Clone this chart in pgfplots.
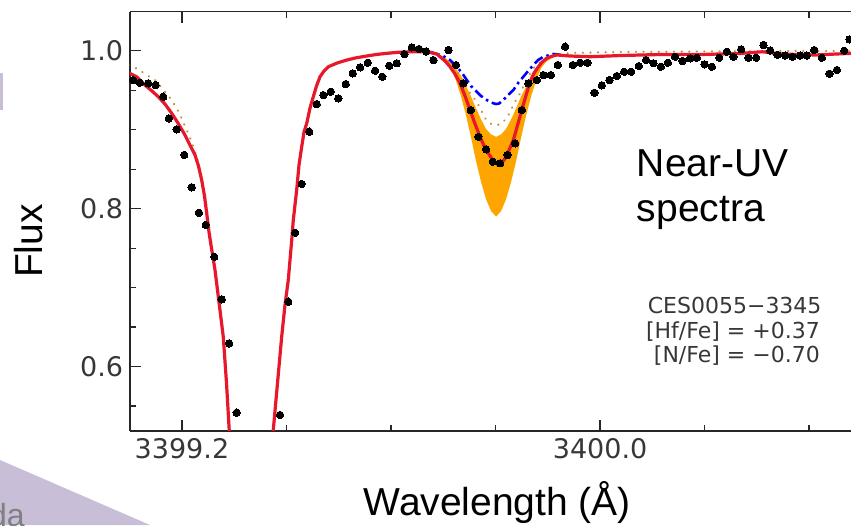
\documentclass[border=0pt]{standalone}
\usepackage{fontspec}
\setmainfont{Liberation Sans}
\newfontfamily\dejavu{DejaVu Sans}
\usepackage{pgfplots}
\pgfplotsset{compat=1.18}
\definecolor{fitred}{RGB}{232,24,44}
\definecolor{bandorange}{RGB}{255,165,0}
\definecolor{dotol}{RGB}{192,145,60}
\definecolor{lav}{RGB}{201,190,216}
\definecolor{tickgray}{RGB}{55,55,55}

\pgfplotstableread{
x y
3399.1068 0.9629
3399.1196 0.9595
3399.1355 0.9587
3399.1497 0.9566
3399.1642 0.9418
3399.1751 0.9144
3399.1899 0.9005
3399.2044 0.8681
3399.2186 0.8271
3399.2325 0.7949
3399.2454 0.7794
3399.2618 0.7392
3399.2760 0.6853
3399.2900 0.6296
3399.3047 0.5418
3399.3876 0.5389
3399.4034 0.6823
3399.4163 0.7696
3399.4291 0.8313
3399.4436 0.8975
3399.4578 0.9325
3399.4704 0.9439
3399.4846 0.9481
3399.4991 0.9397
3399.5133 0.9578
3399.5267 0.9714
3399.5407 0.9790
3399.5554 0.9848
3399.5694 0.9747
3399.5833 0.9671
3399.5967 0.9810
3399.6109 0.9841
3399.6255 0.9958
3399.6396 1.0043
3399.6536 1.0022
3399.6670 0.9992
3399.6810 0.9882
3399.7097 1.0009
3399.7244 0.9819
3399.7384 0.9587
3399.7525 0.9249
3399.7671 0.8911
3399.7818 0.8752
3399.7946 0.8595
3399.8086 0.8575
3399.8226 0.8680
3399.8373 0.8828
3399.8502 0.9249
3399.8628 0.9587
3399.8789 0.9629
3399.8915 0.9692
3399.9057 0.9692
3399.9190 0.9819
3399.9330 1.0051
3399.9478 0.9819
3399.9617 0.9848
3399.9757 0.9848
3399.9891 0.9468
3400.0033 0.9562
3400.0178 0.9629
3400.0320 0.9680
3400.0459 0.9734
3400.0593 0.9734
3400.0741 0.9806
3400.0880 0.9882
3400.1020 0.9841
3400.1162 0.9797
3400.1296 0.9848
3400.1435 0.9924
3400.1575 0.9870
3400.1722 0.9904
3400.1851 0.9911
3400.1996 0.9828
3400.2138 0.9797
3400.2278 0.9911
3400.2425 0.9987
3400.2551 0.9924
3400.2699 1.0018
3400.2838 0.9911
3400.2986 0.9911
3400.3126 1.0072
3400.3254 1.0004
3400.3393 0.9949
3400.3541 0.9939
3400.3680 0.9924
3400.3828 0.9939
3400.3956 0.9939
3400.4096 1.0009
3400.4243 0.9911
3400.4389 0.9709
3400.4530 0.9756
3400.4670 1.0000
3400.4771 1.0142
3400.4830 0.8009
3400.4835 0.5996
}\obsdata

\begin{document}
\begin{tikzpicture}[x=1pt,y=1pt]
\path[use as bounding box] (0,0) rectangle (851,525);
\fill[lav] (0,65) -- (150,0) -- (0,0) -- cycle;
\fill[lav] (0,415) rectangle (2.5,452);
\node[anchor=base east, text=gray, font=\fontsize{32}{38}\selectfont, inner sep=0pt] at (25,-1) {da};
\begin{axis}[
  at={(129.7pt,94pt)}, anchor=south west, scale only axis,
  width=721.3pt, height=419.3pt,
  xmin=3399.1, xmax=3400.48, ymin=0.5186, ymax=1.0494,
  axis x line*=box, axis y line*=left,
  xtick pos=both, ytick pos=left,
  xtick={3399.2,3400.0}, xticklabels={3399.2,3400.0},
  minor xtick={3399.4,3399.6,3399.8,3400.2,3400.4},
  ytick={0.6,0.8,1.0}, yticklabels={0.6,0.8,1.0},
  minor ytick={0.55,0.65,0.7,0.75,0.85,0.9,0.95},
  tick align=inside, major tick length=11pt, minor tick length=6pt,
  tick style={line width=1.4pt, color=black!85},
  axis line style={line width=1.6pt, color=black!85},
  tick label style={font=\fontsize{27}{32}\selectfont\dejavu, text=tickgray},
  xticklabel style={yshift=-4pt},
  yticklabel style={xshift=-3pt},
  clip marker paths=true,
]
% orange band
\addplot[draw=none, fill=bandorange, mark=none] coordinates {
(3399.6861,0.997) (3399.7053,0.990) (3399.7148,0.985) (3399.7244,0.977)
(3399.7340,0.968) (3399.7435,0.955) (3399.7531,0.942) (3399.7627,0.927)
(3399.7722,0.913) (3399.7818,0.901) (3399.7914,0.894) (3399.8010,0.891)
(3399.8105,0.894) (3399.8201,0.901) (3399.8297,0.913) (3399.8392,0.927)
(3399.8488,0.942) (3399.8584,0.955) (3399.8679,0.968) (3399.8775,0.977)
(3399.8871,0.985) (3399.8967,0.990) (3399.9158,0.995)
(3399.9158,0.994) (3399.8967,0.986) (3399.8871,0.978) (3399.8775,0.962)
(3399.8679,0.942) (3399.8584,0.918) (3399.8488,0.890) (3399.8392,0.860)
(3399.8297,0.834) (3399.8201,0.812) (3399.8105,0.797) (3399.8010,0.790)
(3399.7914,0.797) (3399.7818,0.812) (3399.7722,0.834) (3399.7627,0.860)
(3399.7531,0.890) (3399.7435,0.918) (3399.7340,0.942) (3399.7244,0.962)
(3399.7148,0.978) (3399.7053,0.986) (3399.6861,0.996)
};
% blue dash-dot
\addplot[blue, mark=none, line width=2.6pt, dash pattern=on 10pt off 4pt on 2.5pt off 4pt] coordinates {
(3399.6746,0.9987) (3399.6995,0.9933) (3399.7129,0.9882) (3399.7258,0.9797)
(3399.7359,0.9718) (3399.7449,0.9629) (3399.7531,0.9553) (3399.7640,0.9481)
(3399.7722,0.9427) (3399.7832,0.9376) (3399.7914,0.9344) (3399.8010,0.9325)
(3399.8067,0.9332) (3399.8149,0.9376) (3399.8239,0.9439) (3399.8341,0.9503)
(3399.8431,0.9591) (3399.8532,0.9671) (3399.8622,0.9743) (3399.8724,0.9819)
(3399.8813,0.9882) (3399.8915,0.9924) (3399.9106,0.9958) (3399.9234,0.9952)
};
% dotted
\addplot[dotol, mark=none, line width=2.4pt, line cap=round, dash pattern=on 0.1pt off 7.5pt] coordinates {
(3399.0986,0.9819) (3399.1164,0.9765) (3399.1324,0.9692) (3399.1483,0.9629)
(3399.1675,0.9481) (3399.1803,0.9376) (3399.1899,0.9271) (3399.1994,0.9144)
(3399.2090,0.8996) (3399.2186,0.8848) (3399.2287,0.8642) (3399.2364,0.8427)
(3399.2431,0.8211) (3399.2488,0.7946) (3399.2536,0.7693)
(3399.2632,0.7224) (3399.2708,0.6819) (3399.2790,0.6380) (3399.2852,0.5794)
(3399.2905,0.5186) (3399.3014,0.44) (3399.3326,0.30) (3399.3636,0.44)
(3399.3747,0.5199) (3399.3828,0.5794) (3399.3908,0.6380) (3399.3971,0.6781)
(3399.4034,0.7097) (3399.4100,0.7604) (3399.4130,0.7857) (3399.4195,0.8237)
(3399.4239,0.8553) (3399.4291,0.8785) (3399.4335,0.8971) (3399.4387,0.9081)
(3399.4450,0.9275) (3399.4513,0.9418) (3399.4574,0.9553) (3399.4641,0.9671)
(3399.4718,0.9743) (3399.4800,0.9797) (3399.4967,0.9844) (3399.5152,0.9882)
(3399.5330,0.9910) (3399.5535,0.9933) (3399.5713,0.9952) (3399.5918,0.9967)
(3399.6134,0.9980) (3399.6364,0.9987) (3399.6683,0.9987)
(3399.6875,0.9958) (3399.7033,0.9895) (3399.7225,0.9781) (3399.7378,0.9629)
(3399.7512,0.9461) (3399.7640,0.9354) (3399.7736,0.9228) (3399.7799,0.9144)
(3399.7927,0.9068) (3399.8010,0.9059) (3399.8086,0.9068) (3399.8214,0.9144)
(3399.8278,0.9228) (3399.8373,0.9354) (3399.8469,0.9461) (3399.8603,0.9654)
(3399.8756,0.9806) (3399.8947,0.9908) (3399.9158,0.9952) (3399.9426,0.9971)
(3400.0383,0.9984) (3400.1914,0.9990) (3400.3445,0.9996) (3400.4804,0.9996)
};
% red best fit
\addplot[fitred, mark=none, line width=3.2pt, line join=round] coordinates {
(3399.0986,0.9718) (3399.1139,0.9667) (3399.1292,0.9566) (3399.1426,0.9490)
(3399.1546,0.9418) (3399.1675,0.9325) (3399.1803,0.9208) (3399.1923,0.9085)
(3399.2057,0.8933) (3399.2153,0.8806) (3399.2249,0.8680) (3399.2316,0.8541)
(3399.2377,0.8363) (3399.2431,0.8161) (3399.2473,0.7942) (3399.2517,0.7705)
(3399.2555,0.7541) (3399.2632,0.7224) (3399.2708,0.6819) (3399.2790,0.6380)
(3399.2852,0.5794) (3399.2905,0.5186) (3399.3014,0.44) (3399.3326,0.30)
(3399.3636,0.44) (3399.3747,0.5199) (3399.3828,0.5794) (3399.3908,0.6380)
(3399.3971,0.6781) (3399.4034,0.7097) (3399.4100,0.7604) (3399.4130,0.7857)
(3399.4195,0.8237) (3399.4239,0.8553) (3399.4291,0.8785) (3399.4335,0.8971)
(3399.4387,0.9081) (3399.4450,0.9275) (3399.4513,0.9418) (3399.4574,0.9553)
(3399.4641,0.9671) (3399.4718,0.9743) (3399.4800,0.9797) (3399.4967,0.9844)
(3399.5152,0.9882) (3399.5330,0.9910) (3399.5535,0.9933) (3399.5713,0.9952)
(3399.5918,0.9967) (3399.6134,0.9980) (3399.6364,0.9987) (3399.6683,0.9987)
(3399.6875,0.9958) (3399.6938,0.9924) (3399.7033,0.9870) (3399.7129,0.9797)
(3399.7225,0.9705) (3399.7321,0.9587) (3399.7416,0.9427) (3399.7512,0.9249)
(3399.7608,0.9072) (3399.7703,0.8911) (3399.7780,0.8794) (3399.7862,0.8701)
(3399.7933,0.8629) (3399.8010,0.8575) (3399.8054,0.8553) (3399.8105,0.8566)
(3399.8182,0.8638) (3399.8258,0.8743) (3399.8341,0.8870) (3399.8421,0.9059)
(3399.8501,0.9249) (3399.8584,0.9439) (3399.8660,0.9608) (3399.8737,0.9718)
(3399.8819,0.9797) (3399.8890,0.9857) (3399.8980,0.9904) (3399.9062,0.9927)
(3399.9171,0.9946) (3399.9426,0.9933) (3399.9809,0.9924) (3400.0383,0.9939)
(3400.1148,0.9952) (3400.1914,0.9952) (3400.2679,0.9965) (3400.3100,0.9987)
(3400.3483,0.9958) (3400.4115,0.9946) (3400.4804,0.9967)
};
% observed
\addplot[only marks, mark=*, mark size=3.7pt, mark options={fill=black, draw=black, line width=0pt}] table[x=x,y=y] {\obsdata};
\end{axis}
\node[anchor=base west, font=\fontsize{39}{46}\selectfont, inner sep=0pt] at (636.7,348.3) {Near-UV};
\node[anchor=base west, font=\fontsize{39}{46}\selectfont, inner sep=0pt] at (636.7,303.3) {spectra};
\node[anchor=base, font=\fontsize{39}{46}\selectfont, inner sep=0pt] at (497.3,10) {Wavelength (Å)};
\node[anchor=base, rotate=90, font=\fontsize{39}{46}\selectfont, inner sep=0pt] at (42,284) {Flux};
\node[anchor=base east, font=\fontsize{22}{26}\selectfont\dejavu, text=tickgray, inner sep=0pt] at (821.7,211.7) {CES0055−3345};
\node[anchor=base east, font=\fontsize{22}{26}\selectfont\dejavu, text=tickgray, inner sep=0pt] at (820,186.7) {[Hf/Fe] = +0.37};
\node[anchor=base east, font=\fontsize{22}{26}\selectfont\dejavu, text=tickgray, inner sep=0pt] at (820,162.3) {[N/Fe] = −0.70};
\end{tikzpicture}
\end{document}
